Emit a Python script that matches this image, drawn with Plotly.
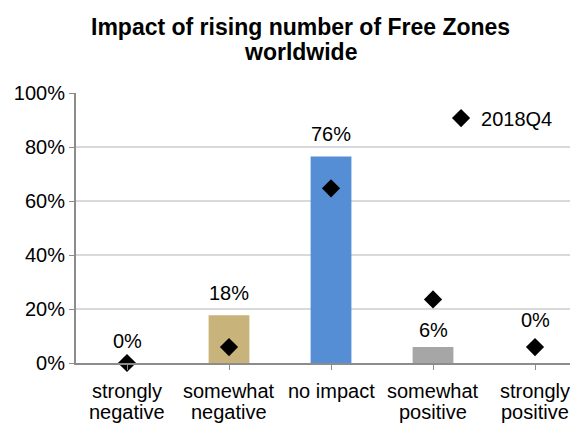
import plotly.graph_objects as go

# Survey answers (share of respondents)
categories = ["strongly<br>negative", "somewhat<br>negative", "no impact",
              "somewhat<br>positive", "strongly<br>positive"]
current_share = [0.0, 3 / 17, 13 / 17, 1 / 17, 0.0]
previous_share = [0.0, 1 / 17, 11 / 17, 4 / 17, 1 / 17]
previous_label = "2018Q4"
title_lines = ["Impact of rising number of Free Zones", "worldwide"]
y_ticks = [0, 0.2, 0.4, 0.6, 0.8, 1.0]
bar_colors = ["#C8B47A", "#C8B47A", "#558ED5", "#A6A6A6", "#A6A6A6"]
label_shift = [22, 22, 23, 17, 43]

FONT = "Liberation Sans, Arial, sans-serif"
x_idx = list(range(len(categories)))

fig = go.Figure()
fig.add_trace(go.Bar(
    x=x_idx, y=current_share, width=0.4,
    marker=dict(color=bar_colors, line=dict(width=0)),
    showlegend=False, hoverinfo="y",
))
fig.add_trace(go.Scatter(
    x=x_idx, y=previous_share, mode="markers", name=previous_label,
    marker=dict(symbol="diamond", size=14, color="black"),
    cliponaxis=False,
))

# value labels above the bars
for i, v in enumerate(current_share):
    fig.add_annotation(
        x=i, y=v, xref="x", yref="y", text=f"{round(v * 100)}%",
        showarrow=False, yshift=label_shift[i], yanchor="middle",
        font=dict(family=FONT, size=20, color="#000000"),
    )

# category labels, one annotation per text line
for i, c in enumerate(categories):
    for k, part in enumerate(c.split("<br>")):
        fig.add_annotation(
            x=i, y=0, xref="x", yref="paper", text=part,
            showarrow=False, yanchor="middle", yshift=-28 - 21 * k,
            font=dict(family=FONT, size=20, color="#000000"),
        )

# two-line bold title
for k, line in enumerate(title_lines):
    fig.add_annotation(
        x=0.455, y=1, xref="paper", yref="paper", text=f"<b>{line}</b>",
        showarrow=False, xanchor="center", yanchor="middle",
        yshift=66 - 25 * k,
        font=dict(family=FONT, size=23, color="#000000"),
    )

fig.update_layout(
    width=570, height=423,
    margin=dict(l=76, r=0, t=93, b=60),
    paper_bgcolor="white", plot_bgcolor="white",
    font=dict(family=FONT, size=20, color="#000000"),
    legend=dict(
        x=0.739, xanchor="left", y=0.907, yanchor="middle",
        bgcolor="rgba(0,0,0,0)", borderwidth=0,
        font=dict(family=FONT, size=20, color="#000000"),
    ),
    bargap=0.6,
)
fig.update_xaxes(
    range=[-0.5, 4.343], tickmode="array", tickvals=x_idx,
    ticktext=[""] * len(x_idx),
    tickson="boundaries", ticks="outside", ticklen=5, tickcolor="#8C8C8C",
    showline=True, linecolor="#8C8C8C", linewidth=2, showgrid=False,
    fixedrange=True,
)
fig.update_yaxes(
    range=[0, 1.0], tickvals=y_ticks, tickformat=".0%",
    ticks="outside", ticklen=5, tickcolor="#8C8C8C",
    showline=True, linecolor="#8C8C8C", linewidth=2,
    showgrid=True, gridcolor="#D9D9D9", gridwidth=2, zeroline=False,
    tickfont=dict(family=FONT, size=20, color="#000000"), fixedrange=True,
)

fig.write_html("out.html")
